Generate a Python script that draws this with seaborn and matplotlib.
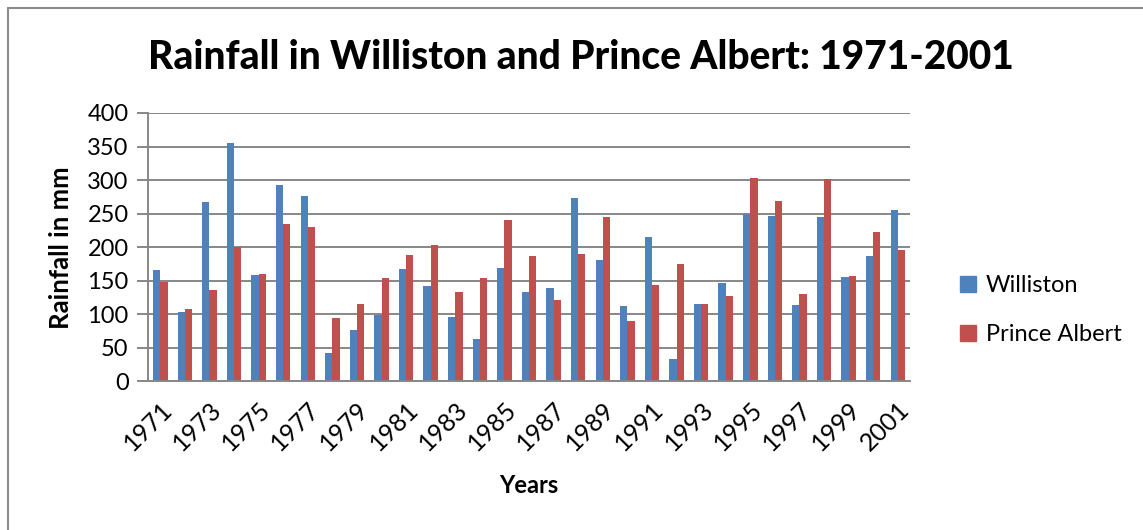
import numpy as np
import pandas as pd
import matplotlib
matplotlib.use("Agg")
import matplotlib.pyplot as plt
import seaborn as sns
from matplotlib.lines import Line2D

years = list(range(1971, 2002))
williston = [166, 103, 268, 356, 158, 292, 277, 42, 76, 99,
             168, 143, 96, 64, 169, 134, 139, 274, 181, 112,
             215, 34, 116, 146, 250, 247, 114, 245, 155, 187, 256]
prince_albert = [148, 108, 136, 200, 160, 234, 230, 94, 115, 154,
                 188, 203, 133, 154, 240, 187, 122, 190, 245, 90,
                 144, 175, 115, 128, 303, 269, 131, 302, 157, 223, 196]
series_names = ["Williston", "Prince Albert"]
colors = ["#4F81BD", "#C0504D"]

df = pd.DataFrame({
    "Year": [str(y) for y in years] * 2,
    "Rainfall": williston + prince_albert,
    "Station": [series_names[0]] * len(years) + [series_names[1]] * len(years),
})

sns.set_style("white", {"text.color": "black", "axes.labelcolor": "black",
                        "xtick.color": "black", "ytick.color": "black"})
plt.rcParams["font.family"] = ["Lato", "DejaVu Sans"]

fig = plt.figure(figsize=(11.43, 5.30), dpi=100)
ax = fig.add_axes([0.1295, 0.2802, 0.6667, 0.5066])

sns.barplot(data=df, x="Year", y="Rainfall", hue="Station", palette=colors,
            width=0.59, gap=0, saturation=1, ax=ax, legend=False,
            edgecolor="none", linewidth=0)

grid_c = "#878787"
ax.set_ylim(0, 400)
ax.set_yticks(np.arange(0, 401, 50))
ax.set_xlim(-0.5, len(years) - 0.5)
ax.yaxis.grid(True, color=grid_c, lw=1.4)
ax.set_axisbelow(True)
for s in ["top", "right"]:
    ax.spines[s].set_visible(False)
for s in ["left", "bottom"]:
    ax.spines[s].set_color(grid_c)
    ax.spines[s].set_linewidth(1.4)

ax.tick_params(axis="y", which="both", left=True, length=8, width=1.4,
               color=grid_c, labelcolor="black", labelsize=17, pad=6)
ax.tick_params(axis="x", bottom=False, labelcolor="black", labelsize=18, pad=8)
ax.set_xticks(range(0, len(years), 2))
ax.set_xticklabels([str(y) for y in years[::2]], rotation=45,
                   ha="right", rotation_mode="anchor")

ax.set_xlabel("Years", fontsize=17, fontweight="bold", labelpad=14)
ax.set_ylabel("Rainfall in mm", fontsize=18.5, fontweight="bold", labelpad=10)
fig.suptitle("Rainfall in Williston and Prince Albert: 1971-2001",
             x=0.508, y=0.927, fontsize=28, fontweight="black", color="black")

handles = [Line2D([], [], marker="s", ls="none", markersize=11,
                  markerfacecolor=c, markeredgecolor=c) for c in colors]
fig.legend(handles, series_names, loc="center left",
           bbox_to_anchor=(0.818, 0.415), frameon=False, fontsize=17,
           handletextpad=0.25, labelspacing=1.2, handlelength=1.0,
           labelcolor="black")

# chart area border
fig.add_artist(Line2D([8 / 1143, 8 / 1143], [0, 1 - 8 / 530],
                      transform=fig.transFigure, color="#8c8c8c", lw=1.5))
fig.add_artist(Line2D([8 / 1143, 1], [1 - 8 / 530, 1 - 8 / 530],
                      transform=fig.transFigure, color="#8c8c8c", lw=1.5))

fig.savefig("out.png", dpi=100)
